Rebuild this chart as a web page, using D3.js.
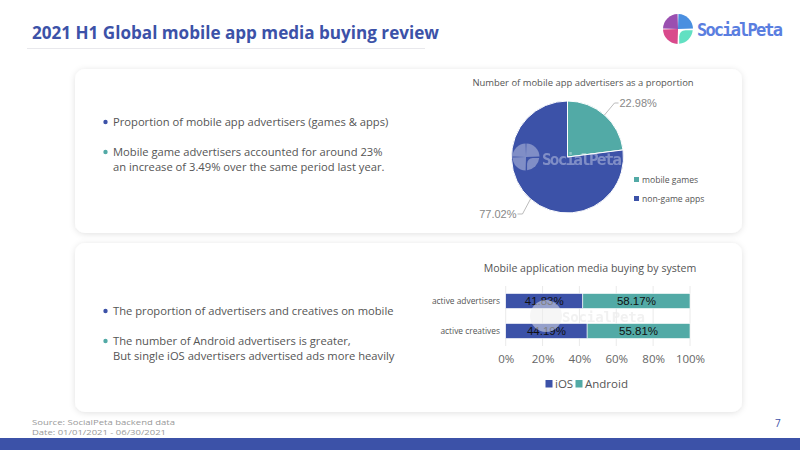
<!DOCTYPE html>
<html>
<head>
<meta charset="utf-8">
<script src="https://cdn.jsdelivr.net/npm/d3@7"></script>
<style>
  body { margin: 0; background: #fff; }
  svg { display: block; font-family: "Segoe UI", "Open Sans", "Noto Sans", sans-serif; }
</style>
</head>
<body>
<div id="chart"></div>
<script>
// data
var pieLabels = ["mobile games", "non-game apps"];
var pieValues = [22.98, 77.02];

var barCategories = ["active advertisers", "active creatives"];
var iosValues = [41.83, 44.19];
var androidValues = [58.17, 55.81];
var barSeries = ["iOS", "Android"];
var barTicks = [0, 20, 40, 60, 80, 100];

var topBullets = [
    ["Proportion of mobile app advertisers (games & apps)"],
    ["Mobile game advertisers accounted for around 23%", "an increase of 3.49% over the same period last year."]
];
var bottomBullets = [
    ["The proportion of advertisers and creatives on mobile"],
    ["The number of Android advertisers is greater,", "But single iOS advertisers advertised ads more heavily"]
];

var blue = "#3c52a8";
var teal = "#52aaa6";
var width = 800, height = 450;

var svg = d3.select("#chart").append("svg")
    .attr("width", width)
    .attr("height", height);

var defs = svg.append("defs");
var shadow = defs.append("filter").attr("id", "shadow")
    .attr("x", "-5%").attr("y", "-10%").attr("width", "110%").attr("height", "125%");
shadow.append("feDropShadow")
    .attr("dx", 0).attr("dy", 1).attr("stdDeviation", 3)
    .attr("flood-color", "#000").attr("flood-opacity", 0.12);

// header
svg.append("text")
    .attr("x", 32).attr("y", 39)
    .attr("font-size", 17.1).attr("font-weight", "bold")
    .attr("fill", blue)
    .text("2021 H1 Global mobile app media buying review");
svg.append("line")
    .attr("x1", 27).attr("x2", 425).attr("y1", 48.5).attr("y2", 48.5)
    .attr("stroke", "#e8e8ec").attr("stroke-width", 1);

// logo
function drawLogo(g, r, alpha, mono) {
    var quads = [
        {a0: -Math.PI / 2, a1: 0, c: "#9a4fb0"},
        {a0: 0, a1: Math.PI / 2, c: "#4a8fe0"},
        {a0: Math.PI, a1: Math.PI * 1.5, c: "#d94a8c"}
    ];
    var arc = d3.arc().innerRadius(0).outerRadius(r).padAngle(0.06);
    quads.forEach(function(q) {
        g.append("path")
            .attr("d", arc({startAngle: q.a0, endAngle: q.a1}))
            .attr("fill", mono || q.c).attr("opacity", alpha);
    });
    // bottom-right petal
    g.append("path")
        .attr("d", "M" + (r * 0.08) + "," + r * 0.98 +
            " A" + r + "," + r + " 0 0 0 " + r * 0.98 + "," + (r * 0.08) +
            " L" + r * 0.5 + "," + (r * 0.08) +
            " Q" + (r * 0.1) + "," + (r * 0.12) + " " + (r * 0.08) + "," + r * 0.5 + " Z")
        .attr("fill", mono || "#62e0c2").attr("opacity", alpha);
}
var logo = svg.append("g").attr("transform", "translate(678,29)");
drawLogo(logo, 15, 1);
svg.append("text")
    .attr("x", 697).attr("y", 36)
    .attr("font-size", 17).attr("font-weight", "bold")
    .attr("font-family", "DejaVu Sans Mono, monospace")
    .attr("fill", "#5a7ee0")
    .attr("textLength", 86)
    .text("SocialPeta");

// panels
[[75, 69, 667, 164], [75, 243, 667, 169]].forEach(function(p) {
    svg.append("rect")
        .attr("x", p[0]).attr("y", p[1])
        .attr("width", p[2]).attr("height", p[3])
        .attr("rx", 10)
        .attr("fill", "#fff")
        .attr("filter", "url(#shadow)");
});

// bullet text blocks
function drawBullets(list, y0) {
    var colors = [blue, teal];
    var y = y0;
    list.forEach(function(lines, i) {
        svg.append("circle")
            .attr("cx", 105.5).attr("cy", y - 4)
            .attr("r", 2.2)
            .attr("fill", colors[i]);
        lines.forEach(function(line, j) {
            svg.append("text")
                .attr("x", 113).attr("y", y + j * 15)
                .attr("font-size", 11.2)
                .attr("fill", "#555")
                .text(line);
        });
        y += 30;
    });
}
drawBullets(topBullets, 126);
drawBullets(bottomBullets, 315);

// pie chart
svg.append("text")
    .attr("x", 583).attr("y", 86)
    .attr("text-anchor", "middle")
    .attr("font-size", 9.45).attr("fill", "#555")
    .text("Number of mobile app advertisers as a proportion");

var pieCx = 567.5, pieCy = 157, pieR = 56;
var pieColor = d3.scaleOrdinal().domain(pieLabels).range([teal, blue]);
var pie = d3.pie().sort(null).value(function(d) { return d.value; });
var pieData = pie(pieLabels.map(function(l, i) { return {label: l, value: pieValues[i]}; }));
var arc = d3.arc().innerRadius(0).outerRadius(pieR);

var pieG = svg.append("g").attr("transform", "translate(" + pieCx + "," + pieCy + ")");
pieG.selectAll("path")
    .data(pieData)
    .join("path")
    .attr("d", arc)
    .attr("fill", function(d) { return pieColor(d.data.label); })
    .attr("stroke", "#fff")
    .attr("stroke-width", 1);

// pie labels with leader lines from the middle of each slice edge
var edgeArc = d3.arc().innerRadius(pieR).outerRadius(pieR);
pieData.forEach(function(d, i) {
    var p0 = edgeArc.centroid(d);
    var p1, p2, anchor, tx;
    if (i === 0) {
        p1 = [p0[0] + 10, -pieR + 2];
        p2 = [p1[0] + 4, p1[1]];
        anchor = "start"; tx = p2[0] + 1;
    } else {
        p1 = [p0[0] - 8, pieR + 1];
        p2 = [p1[0] - 5, p1[1]];
        anchor = "end"; tx = p2[0] - 1;
    }
    pieG.append("polyline")
        .attr("points", [p0, p1, p2].map(function(p) { return p.join(","); }).join(" "))
        .attr("fill", "none").attr("stroke", "#aaa").attr("stroke-width", 0.8);
    pieG.append("text")
        .attr("x", tx).attr("y", p2[1] + 4)
        .attr("text-anchor", anchor)
        .attr("font-size", 11).attr("fill", "#888")
        .attr("font-family", "Liberation Sans, Arial, sans-serif")
        .text(d.data.value.toFixed(2) + "%");
});

// pie watermark
var wm1 = svg.append("g").attr("transform", "translate(526,157)");
drawLogo(wm1, 13.5, 0.35, "#fff");
svg.append("text")
    .attr("x", 542).attr("y", 165)
    .attr("font-size", 16).attr("font-weight", "bold")
    .attr("font-family", "DejaVu Sans Mono, monospace")
    .attr("fill", "#fff").attr("opacity", 0.35)
    .attr("textLength", 80)
    .text("SocialPeta");

// pie legend
var pieLegend = svg.append("g");
pieLabels.forEach(function(l, i) {
    pieLegend.append("rect")
        .attr("x", 634).attr("y", 177 + i * 19)
        .attr("width", 5).attr("height", 5)
        .attr("fill", pieColor(l));
    pieLegend.append("text")
        .attr("x", 642).attr("y", 183 + i * 19)
        .attr("font-size", 8.6).attr("fill", "#555")
        .text(l);
});

// stacked bar chart
svg.append("text")
    .attr("x", 590).attr("y", 272)
    .attr("text-anchor", "middle")
    .attr("font-size", 10.6).attr("fill", "#555")
    .text("Mobile application media buying by system");

var x = d3.scaleLinear().domain([0, 100]).range([505.7, 690]);
var y = d3.scaleBand().domain(barCategories).range([286, 346]).paddingInner(0.5).paddingOuter(0.25);

var barG = svg.append("g");
barG.selectAll("line.grid")
    .data(barTicks)
    .join("line")
    .attr("class", "grid")
    .attr("x1", function(d) { return x(d); })
    .attr("x2", function(d) { return x(d); })
    .attr("y1", 286).attr("y2", 346)
    .attr("stroke", "#e4e4e4").attr("stroke-width", 0.8);

// bar watermark
var wm2 = svg.append("g").attr("transform", "translate(546,316)").attr("opacity", 0.5);
wm2.append("circle").attr("r", 16).attr("fill", "#eee");
svg.append("text")
    .attr("x", 562).attr("y", 322)
    .attr("font-size", 14).attr("font-weight", "bold")
    .attr("font-family", "DejaVu Sans Mono, monospace")
    .attr("fill", "#eee").attr("opacity", 0.8)
    .attr("textLength", 83)
    .text("SocialPeta");

var stackData = barCategories.map(function(c, i) {
    return {cat: c, iOS: iosValues[i], Android: androidValues[i]};
});
var stack = d3.stack().keys(barSeries)(stackData);
var barColor = d3.scaleOrdinal().domain(barSeries).range([blue, teal]);

stack.forEach(function(layer) {
    var g = barG.append("g").attr("fill", barColor(layer.key));
    g.selectAll("rect")
        .data(layer)
        .join("rect")
        .attr("x", function(d) { return x(d[0]); })
        .attr("y", function(d) { return y(d.data.cat); })
        .attr("width", function(d) { return x(d[1]) - x(d[0]); })
        .attr("height", y.bandwidth())
        .attr("stroke", "#fff").attr("stroke-width", 0.6);
    barG.append("g").selectAll("text")
        .data(layer)
        .join("text")
        .attr("x", function(d) { return (x(d[0]) + x(d[1])) / 2; })
        .attr("y", function(d) { return y(d.data.cat) + y.bandwidth() / 2 + 4; })
        .attr("text-anchor", "middle")
        .attr("font-size", 11.5).attr("font-family", "Liberation Sans, Arial, sans-serif")
        .attr("fill", "#111")
        .text(function(d) { return (d[1] - d[0]).toFixed(2) + "%"; });
});

// category labels
barG.selectAll("text.cat")
    .data(barCategories)
    .join("text")
    .attr("class", "cat")
    .attr("x", 500)
    .attr("y", function(d) { return y(d) + y.bandwidth() / 2 + 3; })
    .attr("text-anchor", "end")
    .attr("font-size", 8.4).attr("fill", "#555")
    .text(function(d) { return d; });

// x axis labels
var xAxis = d3.axisBottom(x).tickValues(barTicks).tickSize(0).tickFormat(function(d) { return d + "%"; });
var axisG = svg.append("g").attr("transform", "translate(0,352)").call(xAxis);
axisG.select(".domain").remove();
axisG.selectAll("text")
    .attr("font-size", 11.5).attr("fill", "#666")
    .attr("font-family", "Segoe UI, Open Sans, sans-serif");

// bar legend
var legendX = [545.5, 575.5];
barSeries.forEach(function(s, i) {
    svg.append("rect")
        .attr("x", legendX[i]).attr("y", 380)
        .attr("width", 7).attr("height", 7.5)
        .attr("fill", barColor(s));
    svg.append("text")
        .attr("x", legendX[i] + 9.5).attr("y", 388)
        .attr("font-size", 11.5).attr("fill", "#555")
        .text(s);
});

// footer
svg.append("text")
    .attr("x", 32).attr("y", 424.5)
    .attr("font-size", 8).attr("fill", "#999")
    .attr("textLength", 143).attr("lengthAdjust", "spacingAndGlyphs")
    .text("Source: SocialPeta backend data");
svg.append("text")
    .attr("x", 32).attr("y", 434.5)
    .attr("font-size", 8).attr("fill", "#999")
    .attr("textLength", 134).attr("lengthAdjust", "spacingAndGlyphs")
    .text("Date: 01/01/2021 - 06/30/2021");
svg.append("text")
    .attr("x", 775).attr("y", 427)
    .attr("font-size", 10).attr("fill", blue)
    .text("7");
svg.append("rect")
    .attr("x", 0).attr("y", 438)
    .attr("width", width).attr("height", 12)
    .attr("fill", blue);
</script>
</body>
</html>
